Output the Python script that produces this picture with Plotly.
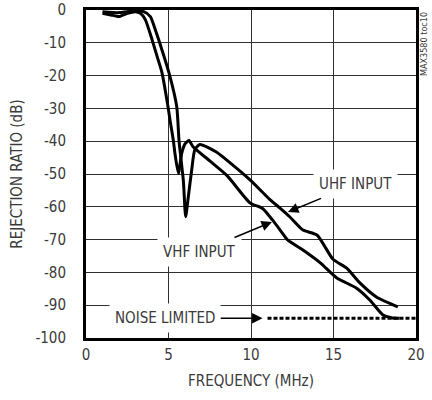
import plotly.graph_objects as go

# ---- data ----
vhf_freq = [1.0, 1.5, 2.0, 2.5, 3.0, 3.3, 3.6, 4.0, 4.3, 4.6, 4.97, 5.09, 5.3, 5.39, 5.6,
            5.8, 6.0, 6.24, 6.5, 7.5, 8.55, 9.94, 10.7, 11.3, 11.9, 12.2, 13.15, 14.2,
            15.2, 16.4, 17.2, 18.0, 18.5, 19.0]
vhf_db = [-1.0, -1.5, -2.0, -1.0, -0.5, -1.0, -3.0, -9.0, -14.0, -19.0, -29.5, -33.5, -40.0, -43.7, -49.8,
          -43.7, -40.8, -39.8, -41.8, -46.0, -50.5, -58.8, -60.5, -64.0, -68.0, -70.0, -73.2, -77.1,
          -81.7, -84.8, -88.4, -93.0, -93.8, -94.0]

uhf_freq = [1.0, 2.0, 2.5, 3.0, 3.5, 3.9, 4.2, 4.4, 5.03, 5.5, 5.64, 5.9, 6.04, 6.2, 6.4, 6.6, 6.9,
            7.9, 8.9, 9.94, 11.15, 11.76, 12.36, 13.15, 14.0, 14.97, 15.8, 16.6, 17.6, 18.9]
uhf_db = [-0.5, -0.8, -0.5, -0.3, -0.5, -2.0, -6.0, -9.0, -19.2, -29.5, -40.0, -52.0, -63.0, -57.0, -49.0, -42.5, -41.0,
          -43.3, -47.3, -51.8, -57.8, -60.4, -63.1, -67.1, -68.6, -76.0, -78.7, -83.2, -87.5, -90.5]

noise_freq = [11.0, 20.0]
noise_db = [-94.0, -94.0]

x_tickvals = [0, 5, 10, 15, 20]
x_ticktext = ["0", "5", "10", "15", "20"]
y_tickvals = [0, -10, -20, -30, -40, -50, -60, -70, -80, -90, -100]
y_ticktext = ["0", "-10", "-20", "-30", "-40", "-50", "-60", "-70", "-80", "-90", "-100"]

FONT = "Liberation Sans Narrow, DejaVu Sans Condensed, Arial Narrow, sans-serif"
TXT = "#3a3a3a"
FS = 15

fig = go.Figure()
fig.add_trace(go.Scatter(x=vhf_freq, y=vhf_db, mode="lines", name="VHF INPUT",
                         line=dict(color="black", width=3, shape="spline", smoothing=0.6)))
fig.add_trace(go.Scatter(x=uhf_freq, y=uhf_db, mode="lines", name="UHF INPUT",
                         line=dict(color="black", width=3, shape="spline", smoothing=0.6)))
fig.add_trace(go.Scatter(x=noise_freq, y=noise_db, mode="lines", name="NOISE LIMITED",
                         line=dict(color="black", width=3, dash="4px,2px")))

ann_font = dict(family=FONT, size=FS, color=TXT)
fig.add_annotation(x=12.24, y=-61.6, ax=16.36, ay=-53.0, axref="x", ayref="y",
                   text="UHF INPUT", showarrow=True, arrowhead=2, arrowsize=1.4, arrowwidth=1.5,
                   arrowcolor="black", font=ann_font, bgcolor="white", borderpad=5)
fig.add_annotation(x=11.27, y=-64.6, ax=6.9, ay=-73.8, axref="x", ayref="y",
                   text="VHF INPUT", showarrow=True, arrowhead=2, arrowsize=1.4, arrowwidth=1.5,
                   arrowcolor="black", font=ann_font, bgcolor="white", borderpad=5)
fig.add_annotation(x=10.7, y=-94.0, ax=4.8, ay=-94.0, axref="x", ayref="y",
                   text="NOISE LIMITED", showarrow=True, arrowhead=2, arrowsize=1.4, arrowwidth=1.5,
                   arrowcolor="black", font=ann_font, bgcolor="white", borderpad=5)
fig.add_annotation(x=1.0, y=1.0, xref="paper", yref="paper", xanchor="center", yanchor="top",
                   xshift=8, text="MAX3580 toc10", textangle=-90, showarrow=False,
                   font=dict(family=FONT, size=9, color=TXT))

axis_common = dict(showline=True, linecolor="black", linewidth=3, mirror=True,
                   showgrid=True, gridcolor="#303030", gridwidth=1, zeroline=False,
                   ticks="", tickfont=dict(family=FONT, size=FS, color=TXT))
fig.update_xaxes(range=[0, 20], tickvals=x_tickvals, ticktext=x_ticktext,
                 title=dict(text="FREQUENCY (MHz)", font=dict(family=FONT, size=FS, color=TXT), standoff=13),
                 ticklabelstandoff=1, **axis_common)
fig.update_yaxes(range=[-100, 0], tickvals=y_tickvals, ticktext=y_ticktext,
                 title=dict(text="REJECTION RATIO (dB)", font=dict(family=FONT, size=FS, color=TXT), standoff=10),
                 ticklabelstandoff=14, **axis_common)
fig.update_layout(width=432, height=400, margin=dict(l=86, r=16, t=10, b=62, autoexpand=False),
                  paper_bgcolor="white", plot_bgcolor="white", showlegend=False,
                  font=dict(family=FONT, color=TXT))
# remove the default 8px page margin so the figure sits at the window origin
fig.write_html("out.html", config={"displayModeBar": False},
               post_script="document.body.style.margin='0';")
